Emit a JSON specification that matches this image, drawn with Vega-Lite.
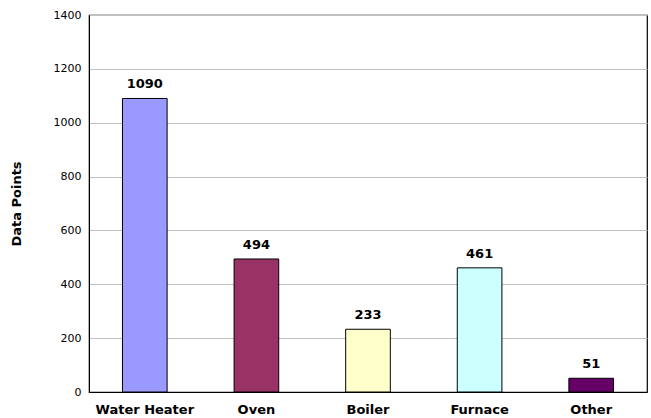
{
  "$schema": "https://vega.github.io/schema/vega-lite/v6.json",
  "autosize": {"type": "none"},
  "padding": {"left": 89, "top": 15, "right": 4, "bottom": 26},
  "width": 558,
  "height": 377,
  "background": "white",
  "config": {
    "view": {"stroke": "#000000", "strokeWidth": 1.2},
    "font": "DejaVu Sans"
  },
  "data": {
    "values": [
      {"category": "Water Heater", "points": 1090},
      {"category": "Oven", "points": 494},
      {"category": "Boiler", "points": 233},
      {"category": "Furnace", "points": 461},
      {"category": "Other", "points": 51}
    ]
  },
  "encoding": {
    "x": {
      "field": "category", "type": "nominal", "sort": null,
      "scale": {"paddingInner": 0.6, "paddingOuter": 0.3},
      "axis": {
        "title": null, "labelAngle": 0, "ticks": false, "domain": true, "domainColor": "#000000",
        "labelFont": "DejaVu Sans", "labelFontSize": 13, "labelFontWeight": "bold", "labelColor": "#000000",
        "labelPadding": 11
      }
    },
    "y": {
      "field": "points", "type": "quantitative",
      "scale": {"domain": [0, 1400], "nice": false},
      "axis": {
        "title": "Data Points", "values": [0, 200, 400, 600, 800, 1000, 1200, 1400], "format": "d",
        "ticks": false, "domainColor": "#000000", "gridColor": "#c0c0c0", "gridWidth": 1,
        "labelFont": "DejaVu Sans", "labelFontSize": 11, "labelColor": "#000000", "labelPadding": 8,
        "titleFont": "DejaVu Sans", "titleFontSize": 13, "titleFontWeight": "bold", "titleColor": "#000000",
        "titlePadding": 30
      }
    }
  },
  "layer": [
    {
      "mark": {"type": "bar", "stroke": "#000000", "strokeWidth": 1},
      "encoding": {
        "color": {
          "field": "category", "type": "nominal", "sort": null, "legend": null,
          "scale": {
            "domain": ["Water Heater", "Oven", "Boiler", "Furnace", "Other"],
            "range": ["#9999FF", "#993366", "#FFFFCC", "#CCFFFF", "#660066"]
          }
        }
      }
    },
    {
      "mark": {"type": "text", "baseline": "alphabetic", "dy": -10, "fontSize": 13, "fontWeight": "bold", "color": "#000000", "font": "DejaVu Sans"},
      "encoding": {"text": {"field": "points", "type": "quantitative"}}
    }
  ]
}
